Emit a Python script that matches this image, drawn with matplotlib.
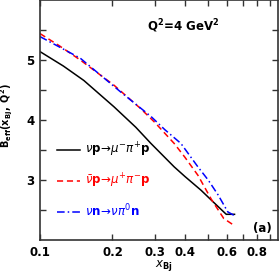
import matplotlib
matplotlib.use('Agg')
import matplotlib.pyplot as plt
from matplotlib.ticker import FixedLocator, NullFormatter

# values
x_black = [0.10, 0.125, 0.152, 0.203, 0.25, 0.289, 0.361, 0.40, 0.467, 0.52, 0.594, 0.643]
y_black = [5.14, 4.90, 4.66, 4.22, 3.88, 3.61, 3.22, 3.06, 2.83, 2.65, 2.43, 2.43]

x_red = [0.10, 0.12, 0.147, 0.203, 0.262, 0.30, 0.361, 0.40, 0.453, 0.515, 0.58, 0.643]
y_red = [5.44, 5.24, 5.00, 4.58, 4.19, 3.96, 3.61, 3.38, 3.08, 2.68, 2.36, 2.24]

x_blue = [0.10, 0.12, 0.147, 0.216, 0.289, 0.33, 0.385, 0.453, 0.50, 0.55, 0.603, 0.635, 0.65]
y_blue = [5.39, 5.22, 5.03, 4.47, 4.06, 3.84, 3.61, 3.22, 3.00, 2.75, 2.47, 2.42, 2.46]

labels = [r'$\nu\mathbf{p}\!\rightarrow\!\mu^{-}\pi^{+}\mathbf{p}$',
          r'$\bar{\nu}\mathbf{p}\!\rightarrow\!\mu^{+}\pi^{-}\mathbf{p}$',
          r'$\nu\mathbf{n}\!\rightarrow\!\nu\pi^{0}\mathbf{n}$']

x_major = [0.1, 0.2, 0.3, 0.4, 0.6, 0.8]
x_minor = [0.5, 0.7, 0.9]
y_major = [3, 4, 5]
y_minor = [2.5, 3.5, 4.5, 5.5]

fig = plt.figure(figsize=(2.8, 2.76), dpi=100)
ax = fig.add_axes([0.143, 0.13, 0.85, 0.87])

ax.plot(x_black, y_black, color='black', lw=1.1, label=labels[0])
ax.plot(x_red, y_red, color='red', lw=1.1, ls=(0, (4, 2.5)), label=labels[1])
ax.plot(x_blue, y_blue, color='blue', lw=1.1, ls=(0, (5, 2, 1, 2)), label=labels[2])

ax.set_xscale('log')
ax.set_xlim(0.1, 0.975)
ax.set_ylim(2, 6)

ax.xaxis.set_major_locator(FixedLocator(x_major))
ax.xaxis.set_minor_locator(FixedLocator(x_minor))
ax.xaxis.set_minor_formatter(NullFormatter())
ax.set_xticklabels([str(v) for v in x_major])
ax.yaxis.set_major_locator(FixedLocator(y_major))
ax.yaxis.set_minor_locator(FixedLocator(y_minor))

ax.tick_params(which='both', direction='in', top=True, right=True, width=1, colors='#333333')
ax.tick_params(which='major', length=4, labelsize=8.5, labelcolor='black', pad=4)
ax.tick_params(which='minor', length=4)
for lab in ax.get_xticklabels() + ax.get_yticklabels():
    lab.set_fontweight('bold')
for sp in ax.spines.values():
    sp.set_linewidth(1.2)
    sp.set_color('#333333')

ax.set_xlabel(r'$x_{\mathbf{Bj}}$', fontsize=8.5)
ax.xaxis.set_label_coords(0.52, -0.075)
ax.set_ylabel(r'$\mathbf{B_{eff}(x_{Bj},\ Q^2)}$', fontsize=7)
ax.yaxis.set_label_coords(-0.105, 0.52)

ax.text(0.6, 0.89, r'$\mathbf{Q^2\!=\!4\ GeV^2}$', transform=ax.transAxes,
        ha='center', va='center', fontsize=8.5)
ax.text(0.933, 0.05, '(a)', transform=ax.transAxes, ha='center', va='center',
        fontsize=8.5, fontweight='bold')

leg = ax.legend(loc='center left', bbox_to_anchor=(0.07, 0.25), frameon=False,
                fontsize=8.5, handlelength=2.0, handletextpad=0.4,
                labelspacing=1.05, borderpad=0, borderaxespad=0,
                labelcolor='linecolor')

fig.savefig('out.png', dpi=100)
